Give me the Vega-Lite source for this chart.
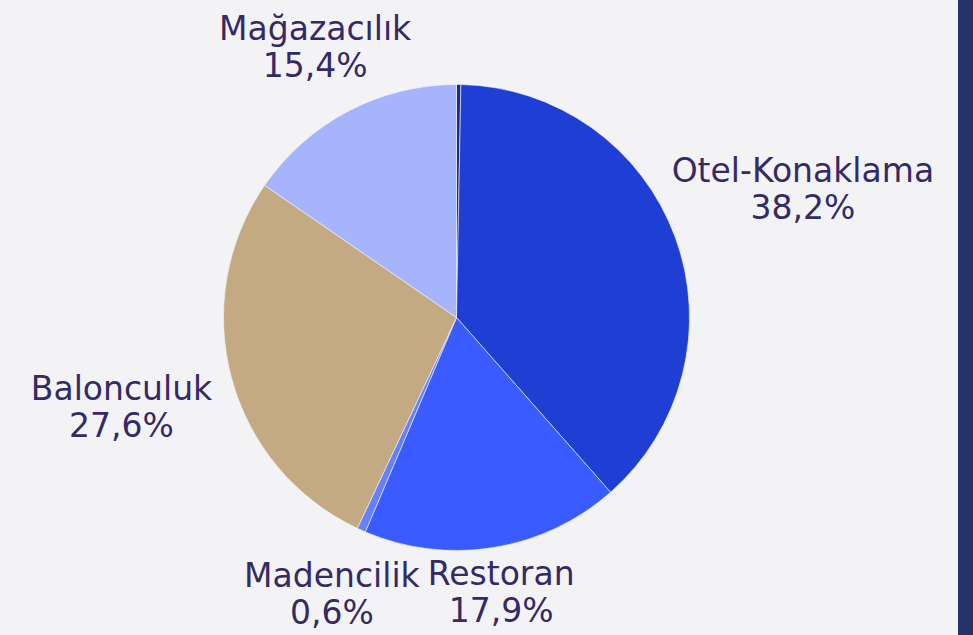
{
  "$schema": "https://vega.github.io/schema/vega-lite/v6.json",
  "background": "#f3f3f6",
  "padding": 0,
  "spacing": 45,
  "bounds": "flush",
  "config": {"view": {"stroke": null}},
  "datasets": {
    "pay": [
      {"kategori": "Diğer", "pay": 0.3, "sira": 0},
      {"kategori": "Otel-Konaklama", "pay": 38.2, "sira": 1},
      {"kategori": "Restoran", "pay": 17.9, "sira": 2},
      {"kategori": "Madencilik", "pay": 0.6, "sira": 3},
      {"kategori": "Balonculuk", "pay": 27.6, "sira": 4},
      {"kategori": "Mağazacılık", "pay": 15.4, "sira": 5}
    ]
  },
  "hconcat": [
    {
      "width": 913,
      "height": 635,
      "data": {"name": "pay"},
      "transform": [
        {"stack": "pay", "groupby": [], "sort": [{"field": "sira", "order": "ascending"}], "as": ["t0", "t1"]},
        {"calculate": "(datum.t0 + datum.t1) / 2", "as": "orta"},
        {"calculate": "datum.kategori + '\\n' + replace(format(datum.pay, '.1f'), '.', ',') + '%'", "as": "etiket"}
      ],
      "encoding": {
        "theta": {"field": "orta", "type": "quantitative", "stack": null, "scale": {"domain": [0, 100]}},
        "text": {"field": "etiket", "type": "nominal"}
      },
      "layer": [
        {
          "mark": {"type": "arc", "outerRadius": 233, "stroke": "#f3f3f6", "strokeWidth": 0.6},
          "encoding": {
            "theta": {"field": "t0", "type": "quantitative", "stack": null, "scale": {"domain": [0, 100]}},
            "theta2": {"field": "t1"},
            "text": null,
            "color": {
              "field": "kategori",
              "type": "nominal",
              "legend": null,
              "scale": {
                "domain": ["Diğer", "Otel-Konaklama", "Restoran", "Madencilik", "Balonculuk", "Mağazacılık"],
                "range": ["#1b2f82", "#1f3fd4", "#3a5bff", "#6681ff", "#c4aa82", "#a6b4fc"]
              }
            }
          }
        },
        {
          "transform": [{"filter": "datum.kategori == 'Otel-Konaklama'"}],
          "mark": {"type": "text", "radius": 369, "dy": -18.5, "font": "DejaVu Sans", "fontSize": 33, "lineHeight": 37, "lineBreak": "\n", "align": "center", "baseline": "middle", "color": "#352a66"}
        },
        {
          "transform": [{"filter": "datum.kategori == 'Restoran'"}],
          "mark": {"type": "text", "radius": 280, "dy": -18.5, "font": "DejaVu Sans", "fontSize": 33, "lineHeight": 37, "lineBreak": "\n", "align": "center", "baseline": "middle", "color": "#352a66"}
        },
        {
          "transform": [{"filter": "datum.kategori == 'Madencilik'"}],
          "mark": {"type": "text", "radius": 305, "dy": -18.5, "font": "DejaVu Sans", "fontSize": 33, "lineHeight": 37, "lineBreak": "\n", "align": "center", "baseline": "middle", "color": "#352a66"}
        },
        {
          "transform": [{"filter": "datum.kategori == 'Balonculuk'"}],
          "mark": {"type": "text", "radius": 347, "dy": -18.5, "font": "DejaVu Sans", "fontSize": 33, "lineHeight": 37, "lineBreak": "\n", "align": "center", "baseline": "middle", "color": "#352a66"}
        },
        {
          "transform": [{"filter": "datum.kategori == 'Mağazacılık'"}],
          "mark": {"type": "text", "radius": 304, "dy": -18.5, "font": "DejaVu Sans", "fontSize": 33, "lineHeight": 37, "lineBreak": "\n", "align": "center", "baseline": "middle", "color": "#352a66"}
        }
      ]
    },
    {
      "width": 15,
      "height": 635,
      "view": {"fill": "#22346a", "stroke": null},
      "data": {"values": [{}]},
      "mark": {"type": "rect", "color": "#22346a"},
      "encoding": {}
    }
  ]
}
